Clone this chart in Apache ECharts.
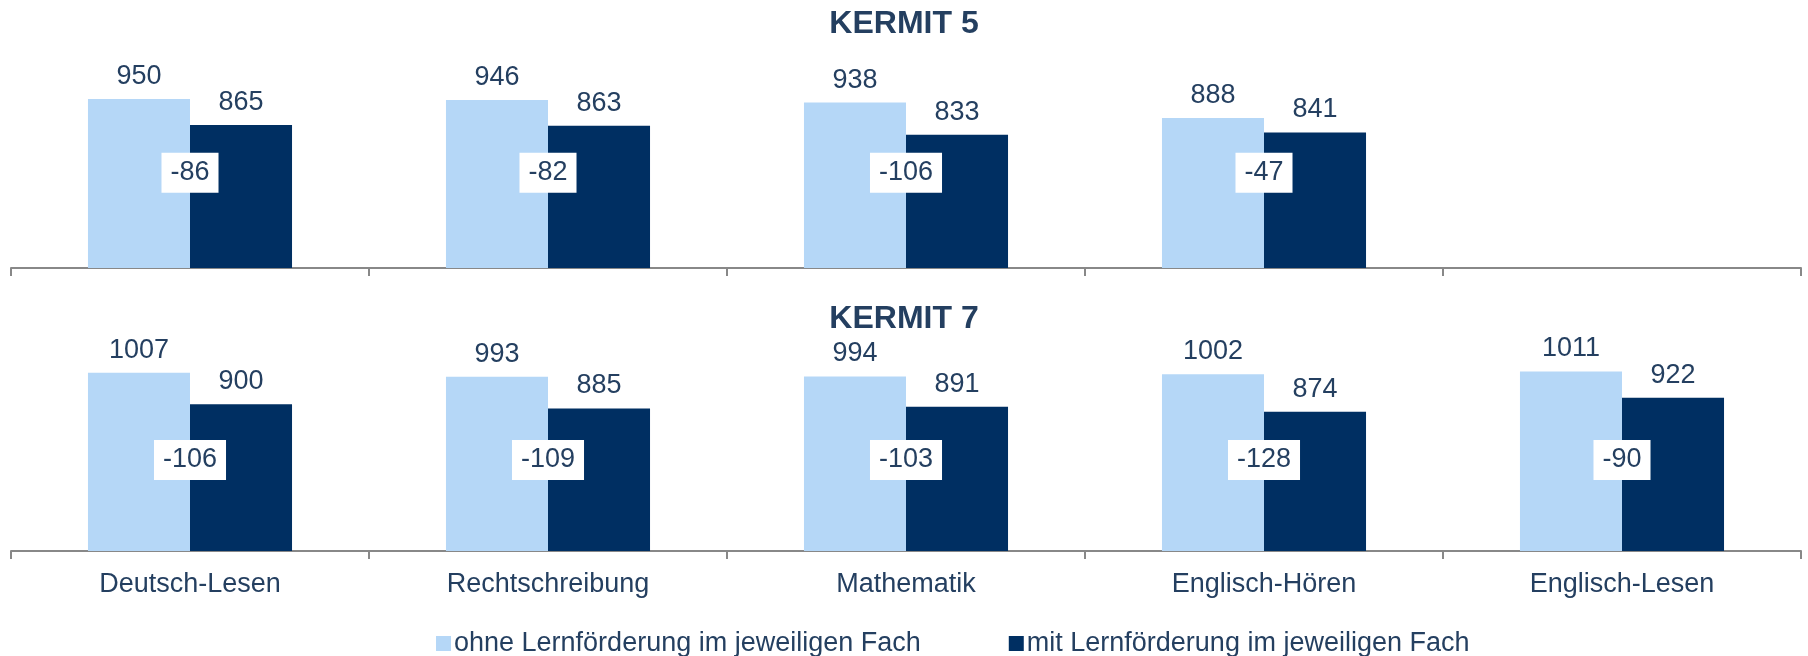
<!DOCTYPE html>
<html>
<head>
<meta charset="utf-8">
<script src="https://cdn.jsdelivr.net/npm/echarts@6/dist/echarts.min.js"></script>
<style>
  html, body { margin: 0; padding: 0; background: #fff; }
  #chart { width: 1808px; height: 656px; }
</style>
</head>
<body>
<div id="chart"></div>
<script>
// ---------- Daten ----------
const faecher = ['Deutsch-Lesen', 'Rechtschreibung', 'Mathematik', 'Englisch-Hören', 'Englisch-Lesen'];
const serieOhne = 'ohne Lernförderung im jeweiligen Fach';
const serieMit = 'mit Lernförderung im jeweiligen Fach';

// KERMIT 5 (kein Englisch-Lesen)
const k5Ohne = [950, 946, 938, 888, null];
const k5Mit = [865, 863, 833, 841, null];
const k5Diff = [-86, -82, -106, -47, null];

// KERMIT 7
const k7Ohne = [1007, 993, 994, 1002, 1011];
const k7Mit = [900, 885, 891, 874, 922];
const k7Diff = [-106, -109, -103, -128, -90];

// ---------- Stil ----------
const textFarbe = '#243F60';
const hell = '#B5D7F7';
const dunkel = '#002F62';
const schrift = '"Liberation Sans", Arial, sans-serif';
const diffHoehe = 710; // Höhe der Differenz-Kästchen auf der Werteachse

function xAchse(idx, mitLabels) {
    return {
        type: 'category', gridIndex: idx, data: faecher,
        axisLine: { lineStyle: { color: '#888888', width: 2 } },
        axisTick: { show: true, length: 8, lineStyle: { color: '#888888', width: 2 } },
        axisLabel: {
            show: mitLabels, color: textFarbe, fontFamily: schrift,
            fontSize: 27, lineHeight: 27, margin: 20
        }
    };
}

function yAchse(idx) {
    return {
        type: 'value', gridIndex: idx, min: 400, max: 1200,
        show: false, splitLine: { show: false }
    };
}

function balken(name, werte, farbe, idx) {
    return {
        name: name, type: 'bar', xAxisIndex: idx, yAxisIndex: idx,
        data: werte, barGap: '0%', barCategoryGap: '43%',
        itemStyle: { color: farbe },
        label: {
            show: true, position: 'top', distance: 9,
            color: textFarbe, fontFamily: schrift, fontSize: 27, lineHeight: 27
        }
    };
}

function differenz(werte, idx) {
    return {
        name: 'diff' + idx, type: 'scatter', xAxisIndex: idx, yAxisIndex: idx,
        z: 5, symbol: 'rect', symbolSize: 1,
        itemStyle: { color: 'rgba(0,0,0,0)', opacity: 1 },
        data: werte.map((d, i) => d === null ? null : { value: [i, diffHoehe], diff: d }).filter(x => x),
        label: {
            show: true, position: 'inside',
            formatter: p => String(p.data.diff),
            backgroundColor: '#ffffff', padding: [6, 9, 7, 9],
            color: textFarbe, fontFamily: schrift, fontSize: 27, lineHeight: 27
        },
        emphasis: { disabled: true }
    };
}

const chart = echarts.init(document.getElementById('chart'));

const option = {
    animation: false,
    title: [
        { text: 'KERMIT 5', left: 'center', top: 3,
          textStyle: { color: textFarbe, fontFamily: schrift, fontSize: 32, fontWeight: 'bold', lineHeight: 32 } },
        { text: 'KERMIT 7', left: 'center', top: 298,
          textStyle: { color: textFarbe, fontFamily: schrift, fontSize: 32, fontWeight: 'bold', lineHeight: 32 } }
    ],
    legend: {
        data: [serieOhne, serieMit],
        left: 436, top: 630, padding: 0,
        icon: 'rect', itemWidth: 15, itemHeight: 15, itemGap: 88,
        textStyle: { color: textFarbe, fontFamily: schrift, fontSize: 27, lineHeight: 27, padding: [0, 0, 0, -2] }
    },
    grid: [
        { left: 11, right: 7, top: 22, height: 246 },
        { left: 11, right: 7, top: 316, height: 235 }
    ],
    xAxis: [xAchse(0, false), xAchse(1, true)],
    yAxis: [yAchse(0), yAchse(1)],
    series: [
        balken(serieOhne, k5Ohne, hell, 0),
        balken(serieMit, k5Mit, dunkel, 0),
        differenz(k5Diff, 0),
        balken(serieOhne, k7Ohne, hell, 1),
        balken(serieMit, k7Mit, dunkel, 1),
        differenz(k7Diff, 1)
    ]
};

chart.setOption(option);
</script>
</body>
</html>
